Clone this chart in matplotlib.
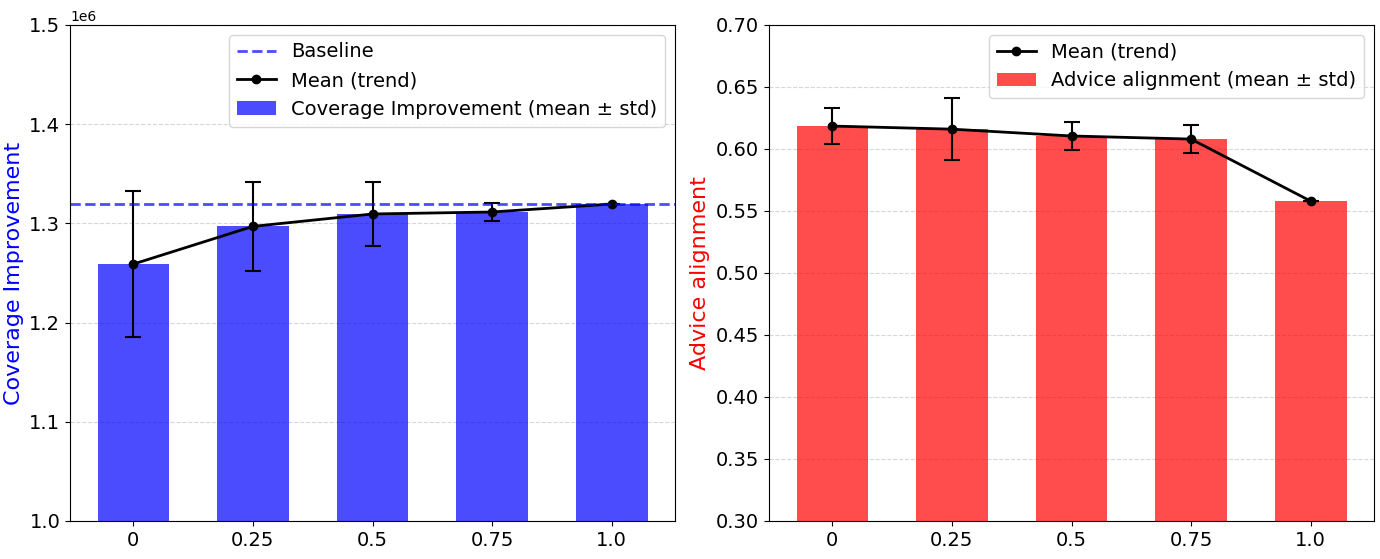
import matplotlib
matplotlib.use("Agg")
import matplotlib.pyplot as plt
import numpy as np

categories = ["0", "0.25", "0.5", "0.75", "1.0"]
coverage_mean = [1.259e6, 1.297e6, 1.3095e6, 1.3115e6, 1.3195e6]
coverage_std = [0.074e6, 0.045e6, 0.032e6, 0.009e6, 0.0]
baseline = 1.3195e6
advice_mean = [0.6185, 0.616, 0.6105, 0.608, 0.558]
advice_std = [0.0145, 0.025, 0.011, 0.011, 0.0]

fig = plt.figure(figsize=(13.8, 5.59), dpi=100)
ax1 = fig.add_axes([70/1380, 1-521/559, 605/1380, 496/559])
ax2 = fig.add_axes([769/1380, 1-521/559, 605/1380, 496/559])
x = np.arange(len(categories))

for ax in (ax1, ax2):
    ax.set_axisbelow(True)
    ax.grid(axis="y", linestyle="--", color="lightgray", alpha=0.9, linewidth=0.8)

ax1.bar(x, coverage_mean, width=0.6, color="blue", alpha=0.7,
        label="Coverage Improvement (mean ± std)")
ax1.errorbar(x, coverage_mean, yerr=coverage_std, fmt="none", ecolor="black",
             capsize=6, elinewidth=1.5, capthick=1.5)
ax1.plot(x, coverage_mean, color="black", marker="o", linewidth=2, label="Mean (trend)")
ax1.axhline(baseline, color="blue", alpha=0.7, linestyle="--", linewidth=2, label="Baseline")
ax1.set_ylim(1.0e6, 1.5e6)
ax1.set_xticks(x)
ax1.set_xticklabels(categories)
ax1.set_ylabel("Coverage Improvement", color="blue", fontsize=16)
ax1.tick_params(labelsize=14)
ax1.yaxis.get_offset_text().set_fontsize(10)
h, l = ax1.get_legend_handles_labels()
order = [l.index("Baseline"), l.index("Mean (trend)"), l.index("Coverage Improvement (mean ± std)")]
ax1.legend([h[i] for i in order], [l[i] for i in order], loc="upper right", fontsize=14)

ax2.bar(x, advice_mean, width=0.6, color="red", alpha=0.7,
        label="Advice alignment (mean ± std)")
ax2.errorbar(x, advice_mean, yerr=advice_std, fmt="none", ecolor="black",
             capsize=6, elinewidth=1.5, capthick=1.5)
ax2.plot(x, advice_mean, color="black", marker="o", linewidth=2, label="Mean (trend)")
ax2.set_ylim(0.3, 0.7)
ax2.set_xticks(x)
ax2.set_xticklabels(categories)
ax2.set_ylabel("Advice alignment", color="red", fontsize=16)
ax2.tick_params(labelsize=14)
h, l = ax2.get_legend_handles_labels()
order = [l.index("Mean (trend)"), l.index("Advice alignment (mean ± std)")]
ax2.legend([h[i] for i in order], [l[i] for i in order], loc="upper right", fontsize=14)

fig.savefig("out.png", dpi=100)
